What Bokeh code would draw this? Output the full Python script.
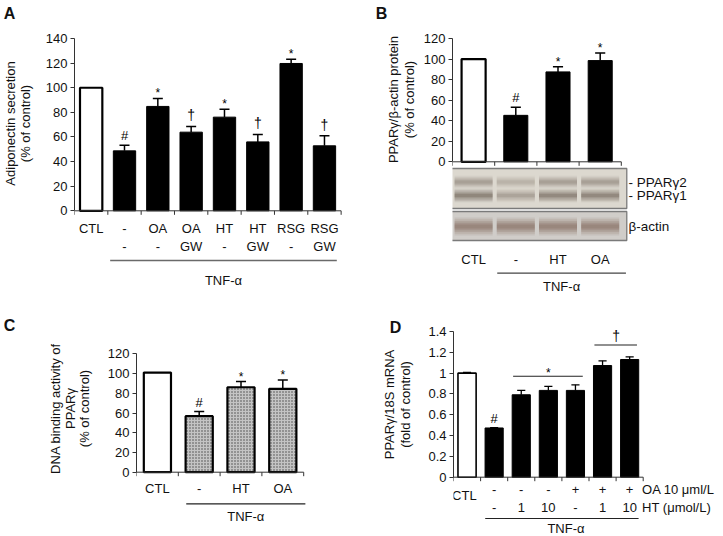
from math import pi
from bokeh.plotting import figure
from bokeh.models import Range1d, FixedTicker, NumeralTickFormatter
from bokeh.layouts import column, row
from bokeh.embed import file_html
from bokeh.resources import INLINE
from bokeh.core.properties import value

FONT = "Liberation Sans"
INK = "#111111"
AXIS = "#333333"

# ---------------- data ----------------
a_labels1 = ["CTL", "-", "OA", "OA", "HT", "HT", "RSG", "RSG"]
a_labels2 = ["", "-", "-", "GW", "-", "GW", "-", "GW"]
a_values = [100, 48.7, 84.8, 63.9, 76.1, 56.0, 119.7, 52.8]
a_errors = [0, 4.6, 6.5, 4.6, 6.5, 6.0, 3.5, 8.1]
a_marks = ["", "#", "*", "†", "*", "†", "*", "†"]
a_ticks = [0, 20, 40, 60, 80, 100, 120, 140]

b_labels = ["CTL", "-", "HT", "OA"]
b_values = [100, 45.2, 87.5, 98.5]
b_errors = [0, 7.8, 5.0, 7.5]
b_marks = ["", "#", "*", "*"]
b_ticks = [0, 20, 40, 60, 80, 100, 120]
b_ppar2 = [0.6, 0.35, 0.6, 0.6]
b_ppar1 = [0.9, 0.5, 0.85, 0.85]
b_actin = [0.9, 0.9, 0.9, 0.9]

c_labels = ["CTL", "-", "HT", "OA"]
c_values = [101, 56.8, 86.1, 84.5]
c_errors = [0, 4.7, 5.8, 9.0]
c_marks = ["", "#", "*", "*"]
c_ticks = [0, 20, 40, 60, 80, 100, 120]

d_oa = ["", "-", "-", "-", "+", "+", "+"]
d_ht = ["", "-", "1", "10", "-", "1", "10"]
d_values = [1.0, 0.473, 0.792, 0.834, 0.834, 1.073, 1.131]
d_errors = [0.006, 0.004, 0.042, 0.038, 0.054, 0.045, 0.026]
d_marks = ["", "#", "", "", "", "", ""]
d_groups = [(3, 5, "*", 0.97), (6, 7, "†", 1.27)]
d_ticks = [0, 0.2, 0.4, 0.6, 0.8, 1.0, 1.2, 1.4]


# ---------------- helpers ----------------
def _style(p):
    p.outline_line_color = None
    p.grid.grid_line_color = None
    p.background_fill_color = "white"
    p.border_fill_color = "white"


def bare(W, H):
    p = figure(width=W, height=H, x_range=Range1d(0, W), y_range=Range1d(H, 0),
               output_backend="svg", toolbar_location=None, tools="", title=None,
               x_axis_location=None, y_axis_location=None,
               min_border_left=0, min_border_right=0, min_border_top=0, min_border_bottom=0)
    _style(p)
    return p


def make_panel(W, H, ox, oy, L, x_px, top_ref, top_val, zero_ref, right, ticks, fmt=None):
    y_px = (zero_ref - top_ref) / top_val
    y_hi = top_val + (top_ref - oy) / y_px
    y_lo = y_hi - H / y_px
    fw = W - L - right
    x0 = 0.5
    p = figure(width=W, height=H, x_range=Range1d(x0, x0 + fw / x_px),
               y_range=Range1d(y_lo, y_hi),
               output_backend="svg", toolbar_location=None, tools="", title=None,
               x_axis_location=None, y_axis_location="left",
               min_border_left=L, min_border_right=right, min_border_top=0,
               min_border_bottom=0)
    _style(p)
    ax = p.yaxis[0]
    ax.bounds = (0, top_val)
    ax.ticker = FixedTicker(ticks=ticks)
    if fmt is not None:
        ax.formatter = fmt
    ax.axis_line_color = AXIS
    ax.axis_line_width = 1
    ax.major_tick_line_color = AXIS
    ax.major_tick_out = 4
    ax.major_tick_in = 0
    ax.minor_tick_out = 0
    ax.minor_tick_in = 0
    ax.major_label_standoff = 3
    ax.major_label_text_font = FONT
    ax.major_label_text_font_size = "13px"
    ax.major_label_text_color = INK

    def Y(ry):
        return y_hi - (ry - oy) / y_px

    return p, Y, y_px


def txt(p, xs, ys, texts, size="13px", align="center", baseline="middle", color=INK,
        style="normal", angle=0.0):
    p.text(x=xs, y=ys, text=texts, text_align=align, text_baseline=baseline,
           text_font=value(FONT), text_font_size=size, text_color=color,
           text_font_style=style, angle=angle)


def bars(p, values, width, fills, lws, hatch=None):
    xs = list(range(1, len(values) + 1))
    kw = {}
    if hatch:
        kw = dict(hatch_pattern=hatch, hatch_color="#3a3a3a", hatch_scale=3, hatch_weight=1,
                  hatch_alpha=[0.0 if f == "white" else 0.9 for f in fills])
    p.vbar(x=xs, top=values, bottom=0, width=width, fill_color=fills,
           line_color="black", line_width=lws, **kw)
    return xs


def errors(p, xs, tops, errs, half_cap, lw=1.5):
    sel = [i for i in range(len(xs)) if errs[i] > 0]
    x = [xs[i] for i in sel]
    y0 = [tops[i] for i in sel]
    y1 = [tops[i] + errs[i] for i in sel]
    p.segment(x0=x, y0=y0, x1=x, y1=y1, line_color="black", line_width=lw)
    p.segment(x0=[v - half_cap for v in x], y0=y1, x1=[v + half_cap for v in x], y1=y1,
              line_color="black", line_width=lw)


MARK_STYLE = {"#": (9.5, "13px"), "*": (5.0, "12px"), "†": (11.0, "14px")}


def marks(p, xs, tops, errs, ms, y_px):
    for sym, (off, size) in MARK_STYLE.items():
        sel = [i for i, m in enumerate(ms) if m == sym]
        if not sel:
            continue
        txt(p, [xs[i] for i in sel], [tops[i] + errs[i] + off / y_px for i in sel],
            [sym] * len(sel), size=size, baseline="alphabetic", color="black")


def xaxis(p, n, y_px, tick_px=4):
    p.segment(x0=[0.5], y0=[0], x1=[n + 0.5], y1=[0], line_color=AXIS, line_width=1)
    bx = [i + 0.5 for i in range(0, n + 1)]
    p.segment(x0=bx, y0=[0] * len(bx), x1=bx, y1=[-tick_px / y_px] * len(bx),
              line_color=AXIS, line_width=1)


TOP_H, BOT_H = 300, 236
V = pi / 2

# ---------------- Panel A ----------------
sA = bare(42, TOP_H)
txt(sA, [9.5, 24.5], [123, 123], ["Adiponectin secretion", "(% of control)"], angle=V)
txt(sA, [9], [12.5], ["A"], size="16px", style="bold")

pa, YA, kA = make_panel(318, TOP_H, 42, 0, 32, 33.33, 38, 140, 210.3, 15, a_ticks)
nA = len(a_values)
xsA = bars(pa, a_values, 0.67, ["white"] + ["black"] * (nA - 1), [2.2] + [1] * (nA - 1))
errors(pa, xsA, a_values, a_errors, 0.15)
marks(pa, xsA, a_values, a_errors, a_marks, kA)
xaxis(pa, nA, kA)
txt(pa, xsA, [YA(227.5)] * nA, a_labels1)
txt(pa, xsA, [YA(245.5)] * nA, a_labels2)
a_l0, a_l1 = 2 - 0.43, nA + 0.37
pa.segment(x0=[a_l0], y0=[YA(260)], x1=[a_l1], y1=[YA(260)], line_color="#6a6a6a", line_width=1.6)
txt(pa, [(a_l0 + a_l1) / 2], [YA(279.5)], ["TNF-α"])

# ---------------- Panel B ----------------
sB = bare(60, TOP_H)
txt(sB, [33, 48.5], [99, 99], ["PPARγ/β-actin protein", "(% of control)"], angle=V)
txt(sB, [21], [12.5], ["B"], size="16px", style="bold")

pb, YB, kB = make_panel(303, TOP_H, 420, 0, 32, 42.2, 38, 120, 161.3, 0, b_ticks)
nB = len(b_values)
xsB = bars(pb, b_values, 0.57, ["white"] + ["black"] * (nB - 1), [2.2] + [1] * (nB - 1))
errors(pb, xsB, b_values, b_errors, 0.12)
marks(pb, xsB, b_values, b_errors, b_marks, kB)
xaxis(pb, nB, kB)
# western blot panels
pb.quad(left=[0.4], right=[nB + 0.63], top=[YB(168)], bottom=[YB(208)],
        fill_color="#dcd8cf", line_color="#7a7a7a", line_width=1.3)
pb.quad(left=[0.4], right=[nB + 0.63], top=[YB(211)], bottom=[YB(240)],
        fill_color="#d0cdc9", line_color="#7a7a7a", line_width=1.3)
for ry, inten, h, col in [(181.5, b_ppar2, 7, "#6a5c50"), (195, b_ppar1, 7.5, "#5f5045"),
                          (226, b_actin, 10, "#74594a")]:
    for frac, a in [(1.8, 0.12), (1.45, 0.14), (1.1, 0.18), (0.75, 0.22), (0.4, 0.25)]:
        pb.rect(x=xsB, y=[YB(ry)] * nB, width=0.9, height=h * frac / kB, fill_color=col,
                fill_alpha=[a * v for v in inten], line_color=None)
txt(pb, [nB + 0.67] * 3, [YB(181.5), YB(195), YB(226)], ["- PPARγ2", "- PPARγ1", "β-actin"],
    size="13.5px", align="left")
txt(pb, xsB, [YB(259)] * nB, b_labels)
b_l0, b_l1 = 2 - 0.44, nB + 0.61
pb.segment(x0=[b_l0], y0=[YB(272.7)], x1=[b_l1], y1=[YB(272.7)], line_color="#444444", line_width=1.2)
txt(pb, [(b_l0 + b_l1) / 2], [YB(286)], ["TNF-α"])

# ---------------- Panel C ----------------
sC = bare(104, BOT_H)
txt(sC, [55, 69.5, 84], [108, 108, 108], ["DNA binding activity of", "PPARγ", "(% of control)"], angle=V)
txt(sC, [9], [25], ["C"], size="16px", style="bold")

pc, YC, kC = make_panel(256, BOT_H, 104, 300, 32, 41.8, 353.3, 120, 471.7, 30, c_ticks)
nC = len(c_values)
xsC = bars(pc, c_values, 0.65, ["white"] + ["#c4c4c4"] * (nC - 1), [2.2] * nC, hatch="dot")
errors(pc, xsC, c_values, c_errors, 0.12)
marks(pc, xsC, c_values, c_errors, c_marks, kC)
xaxis(pc, nC, kC)
txt(pc, xsC, [YC(488.3)] * nC, c_labels)
c_l0, c_l1 = 2 - 0.31, nC + 0.54
pc.segment(x0=[c_l0], y0=[YC(503.3)], x1=[c_l1], y1=[YC(503.3)], line_color="#222222", line_width=1.2)
txt(pc, [(c_l0 + c_l1) / 2], [YC(515.5)], ["TNF-α"])

# ---------------- Panel D ----------------
sD = bare(61, BOT_H)
txt(sD, [29, 44.5], [104, 104], ["PPARγ/18S mRNA", "(fold of control)"], angle=V)
txt(sD, [35], [27], ["D"], size="16px", style="bold")

pd_, YD, kD = make_panel(302, BOT_H, 421, 300, 32, 27.1, 331, 1.4, 476.7, 0, d_ticks,
                         fmt=NumeralTickFormatter(format="0.[0]"))
nD = len(d_values)
xsD = bars(pd_, d_values, 0.67, ["white"] + ["black"] * (nD - 1), [1.6] + [1] * (nD - 1))
errors(pd_, xsD, d_values, d_errors, 0.15, lw=1.3)
marks(pd_, xsD, d_values, d_errors, d_marks, kD)
xaxis(pd_, nD, kD)
for g0, g1, sym, gy in d_groups:
    pd_.segment(x0=[g0 - 0.3], y0=[gy], x1=[g1 + 0.27], y1=[gy], line_color="#222222", line_width=1.1)
    off, size = MARK_STYLE[sym]
    txt(pd_, [(g0 + g1) / 2], [gy + (off - 2) / kD], [sym], size=size, baseline="alphabetic", color="black")
txt(pd_, xsD[1:], [YD(489)] * (nD - 1), d_oa[1:])
txt(pd_, xsD[1:], [YD(507)] * (nD - 1), d_ht[1:])
txt(pd_, [xsD[0] - 0.1], [YD(495)], ["CTL"])
txt(pd_, [nD + 0.46] * 2, [YD(489), YD(507)], ["OA 10 μml/L", "HT (μmol/L)"], align="left")
d_l0, d_l1 = 2 - 0.33, nD + 0.33
pd_.segment(x0=[d_l0], y0=[YD(518)], x1=[d_l1], y1=[YD(518)], line_color="#222222", line_width=1.2)
txt(pd_, [(d_l0 + d_l1) / 2 + 0.15], [YD(528)], ["TNF-α"])

layout = column(row(sA, pa, sB, pb, spacing=0), row(sC, pc, sD, pd_, spacing=0), spacing=0)
open("out.html", "w").write(file_html(layout, INLINE))
